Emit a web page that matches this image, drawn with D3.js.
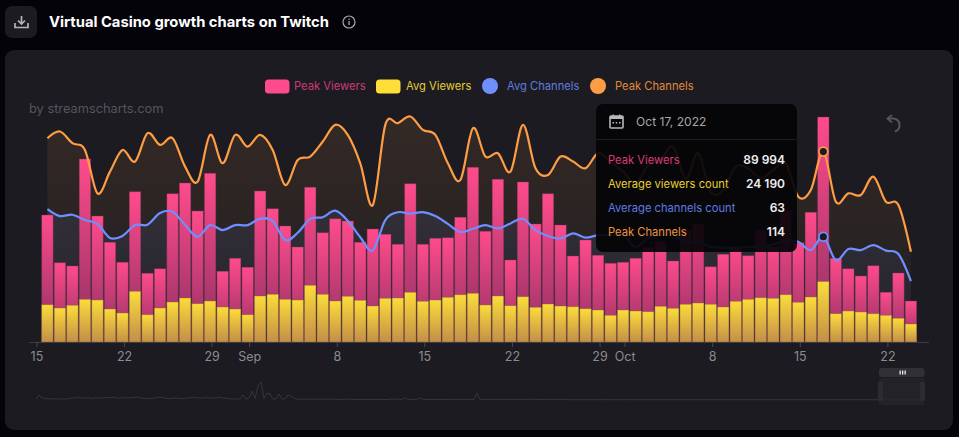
<!DOCTYPE html>
<html><head><meta charset="utf-8">
<script src="https://cdn.jsdelivr.net/npm/d3@7/dist/d3.min.js"></script>
<style>html,body{margin:0;padding:0;background:#04030a;overflow:hidden}svg{display:block;font-family:Inter,"Open Sans",sans-serif}</style>
</head><body><svg id="c" width="959" height="437"></svg>
<script>
const startDate = Date.UTC(2022,7,16);
const peakViewers = [50800,31700,30400,73200,50400,39900,31900,60100,27500,29300,59300,63600,52400,67500,28300,33500,29900,60400,53300,46400,38000,61900,43700,49300,48400,39900,45200,43100,39100,63300,39100,41500,41700,49900,69900,44300,65100,32800,64000,47200,59300,46800,34400,40800,34700,31500,31900,33500,37900,40300,32400,44800,47200,30100,35100,38100,34500,44800,38100,52800,39700,51900,89994,33500,29300,26400,30500,19900,27600,16400];
const avgViewers = [14900,13600,14700,17100,16800,13200,11600,20300,10900,13600,16000,17600,15300,16400,14000,13200,10900,18400,19100,17100,16800,22700,19100,16400,18300,16700,14400,17500,17600,19900,16300,16800,17900,18900,19500,14800,18400,14500,18100,13900,15200,14400,14100,13300,12800,10700,12800,12400,12100,14300,13500,15100,15600,15100,14000,16300,17100,17700,17500,18900,15900,18000,24190,11300,12400,12000,11300,10700,9500,7200];
const avgChannels = [79.6,75.4,76.2,73,70.7,62.3,63.5,70,70.2,77.2,78,70,63,70,67,70,70,73.8,72.5,61,65.4,73.7,74.7,78.6,72.6,62.7,54.9,73,77.7,76.8,77.7,75.4,70.7,65.9,67.8,70,68,71,73.8,67,63.5,62,65,62.5,64,64,64,57,62.3,64,65.3,59.3,60,57,56.5,56.3,57,57,58.5,60.5,60,55,63,49,55.7,55,58,54.7,52.7,36.5];
const peakChannels = [122,126,119,115,89,102,115,108,125,118,122,105,96,124,107,124,117,124,115,94,109,111,120,130,124,107,82,130,131,135,127,124,107,97,128,111,113,102,130,104,100,111,108,104,113,108,102,95,106,109,117,98,113,90,91,105,104,98,103,107,87,91,114,84,89,88,99,84,82,54];
const tickDates = [[7,15,"15"],[7,22,"22"],[7,29,"29"],[8,1,"Sep"],[8,8,"8"],[8,15,"15"],[8,22,"22"],[8,29,"29"],[9,1,"Oct"],[9,8,"8"],[9,15,"15"],[9,22,"22"]];
const navigatorHead = [1,5,2,1.5,1.2,1.2,1,1,1,1,1,1.2,2,2,2.5,2,2,2,2,1.5,2.5,2,2,2.5,2.5,2,3,2,2,2.5,2,2,2.5,2.5,3,2,1.5,1.5,1.5,2,2,3,2.5,2,1.5,1.5,2,2,1.5,1.5,2,2,2.5,3,2,2,2,2.5,2,2,2,3,2,2,1.5,1,1,1,1,5,1,2,9,1.5,14,18,1.5,7,6,1,1,6,1,1.2,5,4,2,1,.8,.8,.9,.8,.8,.8,.8,.9,.8,.8,.8,.8,.7,.7,.6,.6,1,.6,.5,.5,.5,.6,.5,.5,.5,.5,.5,.5,.5,.5,.8,1,.7,.8,.6,2,.7,.6,.6,.7,2,.8,.5,.5,.5,.5,.5,.5,.4,.5,.4,.4,.5,.4,.4,.4,.4,.4,.4,7,.4,.4,.4,.4,.4,.5,.4,.4,.5,.4,.4,.4,.4,.4,.4,.4,.5,1,.4,.4,.5,.5,.4,.5,1,.4,.4,1,.4,.3,.3,.3,.4];
const navigatorTail = [.3,.3,.3,.3,.4,.3,.3,.3,.4,.3,.3,.3,.3,.3,.3,.3,.3,.4,.3,.3,.3,.3,.3,.3,.3,.3,.3,.3,.3,.3,.3,.3,.3,.3,.3,.3,.3,.3,.3,.3,.3,.3,.3,.3,.3,.3,.3,.3,.3,.3,.3,.3,.3,.3,.3,.3,.3,.3,.3,.3,.3,.3,.3,.3,.3,.3,.3,.3,.3,.3,.3,.3,.3,.3,.3,.3,.3,.3,.3,.3,.3,.3,.3,.3,.3,.3,.3,.3,.3,.3,.3,.3,.3,.3,.3,.3,.3,.3,.3,.3,.3,.3,.3,.3,.3,.3,.3,.3,.3,.3,.3,.3,.3,.3,.3,.3,.3,.3,.3,.3];
const legendItems = [["Peak Viewers","#ff4b8b","#c93c76","rect"],["Avg Viewers","#ffde38","#e3cb35","rect"],["Avg Channels","#6f8fff","#5f7cde","circle"],["Peak Channels","#ff9d45","#e08a3c","circle"]];
const tooltipDate = "Oct 17, 2022";
const tooltipRows = [["Peak Viewers","89 994","#d93a78"],["Average viewers count","24 190","#e6d033"],["Average channels count","63","#5f7ce0"],["Peak Channels","114","#ee9240"]];
const activeIndex = 62;

const DAY = 864e5;
const svg = d3.select("#c");
const defs = svg.append("defs");
function grad(id,stops,userY){
  const g = defs.append("linearGradient").attr("id",id).attr("x1",0).attr("x2",0);
  if(userY){g.attr("gradientUnits","userSpaceOnUse").attr("y1",userY[0]).attr("y2",userY[1]);}
  else g.attr("y1",0).attr("y2",1);
  stops.forEach(s=>g.append("stop").attr("offset",s[0]).attr("stop-color",s[1]).attr("stop-opacity",s[2]==null?1:s[2]));
}
grad("gPink",[[0,"#ff4b8b"],[1,"#8d2f62"]]);
grad("gYellow",[[0,"#fbdc3a"],[1,"#c48e48"]]);
grad("gOrange",[[0,"#ff9d45",.11],[1,"#ff9d45",.02]],[115,342]);
grad("gBlue",[[0,"#6f8fff",.10],[1,"#6f8fff",.03]],[205,342]);

// page frame
svg.append("rect").attr("x",5).attr("y",50).attr("width",948).attr("height",380).attr("rx",9).attr("fill","#1b1b21");
svg.append("rect").attr("x",5).attr("y",6).attr("width",32).attr("height",32).attr("rx",7).attr("fill","#1b1b21");
// download icon
const dl = svg.append("g").attr("fill","none").attr("stroke","#b4b4b8").attr("stroke-width",1.7);
dl.append("path").attr("d","M15 23v4.5h13V23");
dl.append("path").attr("d","M21.5 16v8M18 20.5l3.5 3.5 3.5-3.5");
svg.append("text").attr("x",49).attr("y",27).attr("fill","#fff").attr("font-size",14.75).attr("font-weight",700).text("Virtual Casino growth charts on Twitch");
const inf = svg.append("g");
inf.append("circle").attr("cx",349).attr("cy",22).attr("r",6).attr("fill","none").attr("stroke","#a8a8ac").attr("stroke-width",1.2);
inf.append("rect").attr("x",348.4).attr("y",21).attr("width",1.3).attr("height",4).attr("fill","#a8a8ac");
inf.append("rect").attr("x",348.4).attr("y",18.6).attr("width",1.3).attr("height",1.3).attr("fill","#a8a8ac");

// legend
const legendX = [[265,294],[376,406],[482,507],[590,615]];
legendItems.forEach((it,i)=>{
  const [mx,tx] = legendX[i];
  if(it[3]==="rect") svg.append("rect").attr("x",mx).attr("y",79.5).attr("width",24.5).attr("height",14).attr("rx",3.5).attr("fill",it[1]);
  else svg.append("circle").attr("cx",mx+8).attr("cy",86).attr("r",8).attr("fill",it[1]);
  svg.append("text").attr("x",tx).attr("y",90).attr("font-size",11.2).attr("fill",it[2]).text(it[0]);
});
svg.append("text").attr("x",29).attr("y",113).attr("font-size",12.8).attr("fill","#55555c").text("by streamscharts.com");

// scales
const dates = peakViewers.map((_,i)=>startDate+i*DAY);
const x = d3.scaleUtc().domain([Date.UTC(2022,7,15),Date.UTC(2022,9,22)]).range([36.4,887.4]);
const cx = d=>x(d)-1.5;
const yV = d3.scaleLinear().domain([0,90000]).range([342,117]);
const yC = d3.scaleLinear().domain([0,134.7]).range([342,117]);
const barW = 11.4;

// areas behind the bars
const curve = d3.curveCatmullRom.alpha(0);
const area = (vals)=>d3.area().x((_,i)=>cx(dates[i])).y0(342).y1(d=>yC(d)).curve(curve)(vals);
const line = (vals)=>d3.line().x((_,i)=>cx(dates[i])).y(d=>yC(d)).curve(curve)(vals);
svg.append("path").attr("d",area(peakChannels)).attr("fill","url(#gOrange)");
svg.append("path").attr("d",area(avgChannels)).attr("fill","url(#gBlue)");

// bars
svg.append("g").selectAll("rect").data(peakViewers).join("rect")
  .attr("x",(_,i)=>cx(dates[i])-barW/2).attr("width",barW)
  .attr("y",d=>yV(d)).attr("height",d=>342-yV(d))
  .attr("fill","url(#gPink)").attr("stroke","#7a3458").attr("stroke-opacity",.55).attr("stroke-width",.7);
svg.append("g").selectAll("rect").data(avgViewers).join("rect")
  .attr("x",(_,i)=>cx(dates[i])-barW/2).attr("width",barW)
  .attr("y",d=>yV(d)).attr("height",d=>342-yV(d))
  .attr("fill","url(#gYellow)").attr("stroke","#8b6a3c").attr("stroke-opacity",.6).attr("stroke-width",.7);

// lines
svg.append("path").attr("d",line(peakChannels)).attr("fill","none").attr("stroke","#ff9d45").attr("stroke-width",2.2);
svg.append("path").attr("d",line(avgChannels)).attr("fill","none").attr("stroke","#6f8fff").attr("stroke-width",2.2);
[[peakChannels,"#ff9d45"],[avgChannels,"#6f8fff"]].forEach(([v,c])=>{
  svg.append("circle").attr("cx",cx(dates[activeIndex])).attr("cy",yC(v[activeIndex])).attr("r",4.4)
    .attr("fill","#1b1b21").attr("stroke",c).attr("stroke-width",1.7);
});

// axis
svg.append("line").attr("x1",29).attr("x2",929).attr("y1",342.5).attr("y2",342.5).attr("stroke","#3c3c42").attr("stroke-width",1.2);
const axis = d3.axisBottom(x).tickValues(tickDates.map(t=>Date.UTC(2022,t[0],t[1])))
  .tickSize(5).tickPadding(5).tickFormat((_,i)=>tickDates[i][2]);
const ax = svg.append("g").attr("transform","translate(0,342)").call(axis);
ax.select(".domain").remove();
ax.selectAll("line").attr("stroke","#4a4a50");
ax.selectAll("text").attr("fill","#8b8b91").attr("font-size",12.5).attr("font-family","Inter,sans-serif");

// navigator: one reading every three pixels
const navigatorValues = navigatorHead.concat(navigatorTail);
const nx = d3.scaleLinear().domain([0,296]).range([36,924]);
const ny = d3.scaleLinear().domain([0,20]).range([400,380]);
svg.append("path").attr("d",d3.line().x((_,i)=>nx(i)).y(d=>ny(d))(navigatorValues.slice(0,297))).attr("fill","none").attr("stroke","#38383e").attr("stroke-width",.9);
svg.append("rect").attr("x",879).attr("y",378).attr("width",45).attr("height",27).attr("fill","#26262b").attr("opacity",.75);
[878,920].forEach(hx=>svg.append("rect").attr("x",hx).attr("y",382).attr("width",5).attr("height",19).attr("rx",1).attr("fill","#2b2b31"));
svg.append("rect").attr("x",879).attr("y",368).attr("width",45.5).attr("height",9).attr("rx",2.5).attr("fill","#303036");
[899.5,902,904.5].forEach(bx=>svg.append("rect").attr("x",bx).attr("y",370.5).attr("width",1.3).attr("height",4).attr("fill","#f0f0f0"));

// reset icon
svg.append("path").attr("d","M888 118.5 h5.5 a6.7 6.7 0 0 1 1.5 13").attr("fill","none").attr("stroke","#55555b").attr("stroke-width",2);
svg.append("path").attr("d","M892 115 l-4.5 3.5 4.5 4").attr("fill","none").attr("stroke","#55555b").attr("stroke-width",1.8);

// tooltip
const tip = svg.append("g");
tip.append("rect").attr("x",596).attr("y",104).attr("width",201).attr("height",148).attr("rx",7).attr("fill","#040408").attr("fill-opacity",.93);
tip.append("line").attr("x1",596).attr("x2",797).attr("y1",139.5).attr("y2",139.5).attr("stroke","#1c1c20");
const cal = tip.append("g");
cal.append("rect").attr("x",610).attr("y",116).attr("width",13).attr("height",12).attr("rx",1).attr("fill","none").attr("stroke","#b8b8bc").attr("stroke-width",1.6);
cal.append("rect").attr("x",610).attr("y",116).attr("width",13).attr("height",3).attr("fill","#b8b8bc");
[612.5,615.7,619].forEach(bx=>cal.append("rect").attr("x",bx).attr("y",122).attr("width",1.5).attr("height",1.5).attr("fill","#b8b8bc"));
[612.5,619].forEach(bx=>cal.append("rect").attr("x",bx).attr("y",114.5).attr("width",1.4).attr("height",2).attr("fill","#b8b8bc"));
tip.append("text").attr("x",636).attr("y",126).attr("font-size",12.1).attr("fill","#a5a5aa").text(tooltipDate);
tooltipRows.forEach((r,i)=>{
  const yy = 164+i*24;
  tip.append("text").attr("x",608).attr("y",yy).attr("font-size",11.2).attr("fill",r[2]).text(r[0]);
  tip.append("text").attr("x",785).attr("y",yy).attr("text-anchor","end").attr("font-size",12).attr("font-weight",600).attr("fill","#efeff0").text(r[1]);
});
</script></body></html>
